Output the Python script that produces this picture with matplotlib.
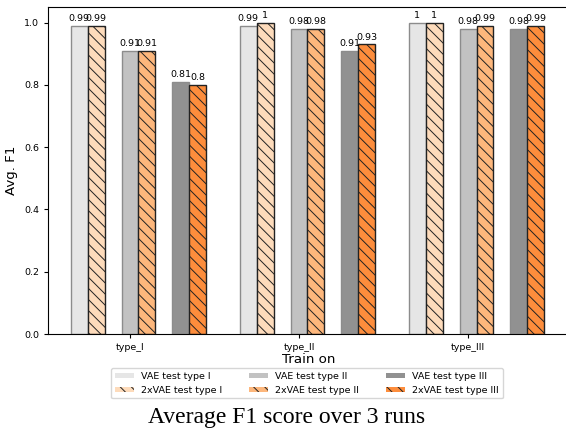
"""Average F1 per training type, VAE vs 2xVAE"""
import numpy as np
import matplotlib
matplotlib.use("Agg")
import matplotlib.pyplot as plt

TRAIN_TYPES = ["type_I", "type_II", "type_III"]
TEST_NAMES = ["type I", "type II", "type III"]

# rows: train type, cols: test type
VAE_F1 = [
    [0.99, 0.91, 0.81],
    [0.99, 0.98, 0.91],
    [1.00, 0.98, 0.98],
]
VAE2_F1 = [
    [0.99, 0.91, 0.80],
    [1.00, 0.98, 0.93],
    [1.00, 0.99, 0.99],
]

VAE_COLORS = ["#e6e6e6", "#c2c2c2", "#919191"]
VAE2_COLORS = ["#fddbbb", "#fdb77c", "#fd8d3c"]


if __name__ == "__main__":
    plt.rcParams["hatch.linewidth"] = 0.7
    fig = plt.figure(figsize=(5.66, 4.30), dpi=100)
    # right spine sits just past the image edge, as in the original crop
    ax = fig.add_axes([48 / 566, 1 - 334 / 430, 521 / 566, 327 / 430])

    x = np.arange(len(TRAIN_TYPES))
    w = 0.1
    vae = np.array(VAE_F1)
    vae2 = np.array(VAE2_F1)

    for k, name in enumerate(TEST_NAMES):
        off = (k - 1) * 3 * w
        b1 = ax.bar(x + off, vae[:, k], w, color=VAE_COLORS[k],
                    edgecolor="#8c8c8c", linewidth=1.0,
                    label=f"VAE test {name}")
        b2 = ax.bar(x + off + w, vae2[:, k], w, color=VAE2_COLORS[k],
                    edgecolor="#222222", linewidth=1.0, hatch="\\\\\\",
                    label=f"2xVAE test {name}")
        ax.bar_label(b1, fontsize=6.8, padding=2)
        ax.bar_label(b2, fontsize=6.8, padding=2)

    ax.set_xticks(x)
    ax.set_xticklabels(TRAIN_TYPES)
    ax.tick_params(labelsize=6.8, length=3)
    ax.set_ylim(0, 1.05)
    ax.set_xlim(-0.485, 2.597)
    ax.set_xlabel("Train on", fontsize=9.6, labelpad=1)
    ax.set_ylabel("Avg. F1", fontsize=9.6)

    leg = ax.legend(loc="upper center", bbox_to_anchor=(0.497, -0.09), ncol=3,
                    fontsize=6.8, columnspacing=2.8, handleheight=0.5)
    # legend patches without outlines, like the original
    for h in leg.legend_handles:
        h.set_linewidth(0)

    fig.text(287 / 566, 1 - 417 / 430, "Average F1 score over 3 runs",
             family="Liberation Serif", fontsize=17, ha="center", va="center")

    fig.savefig("out.png", dpi=100)
